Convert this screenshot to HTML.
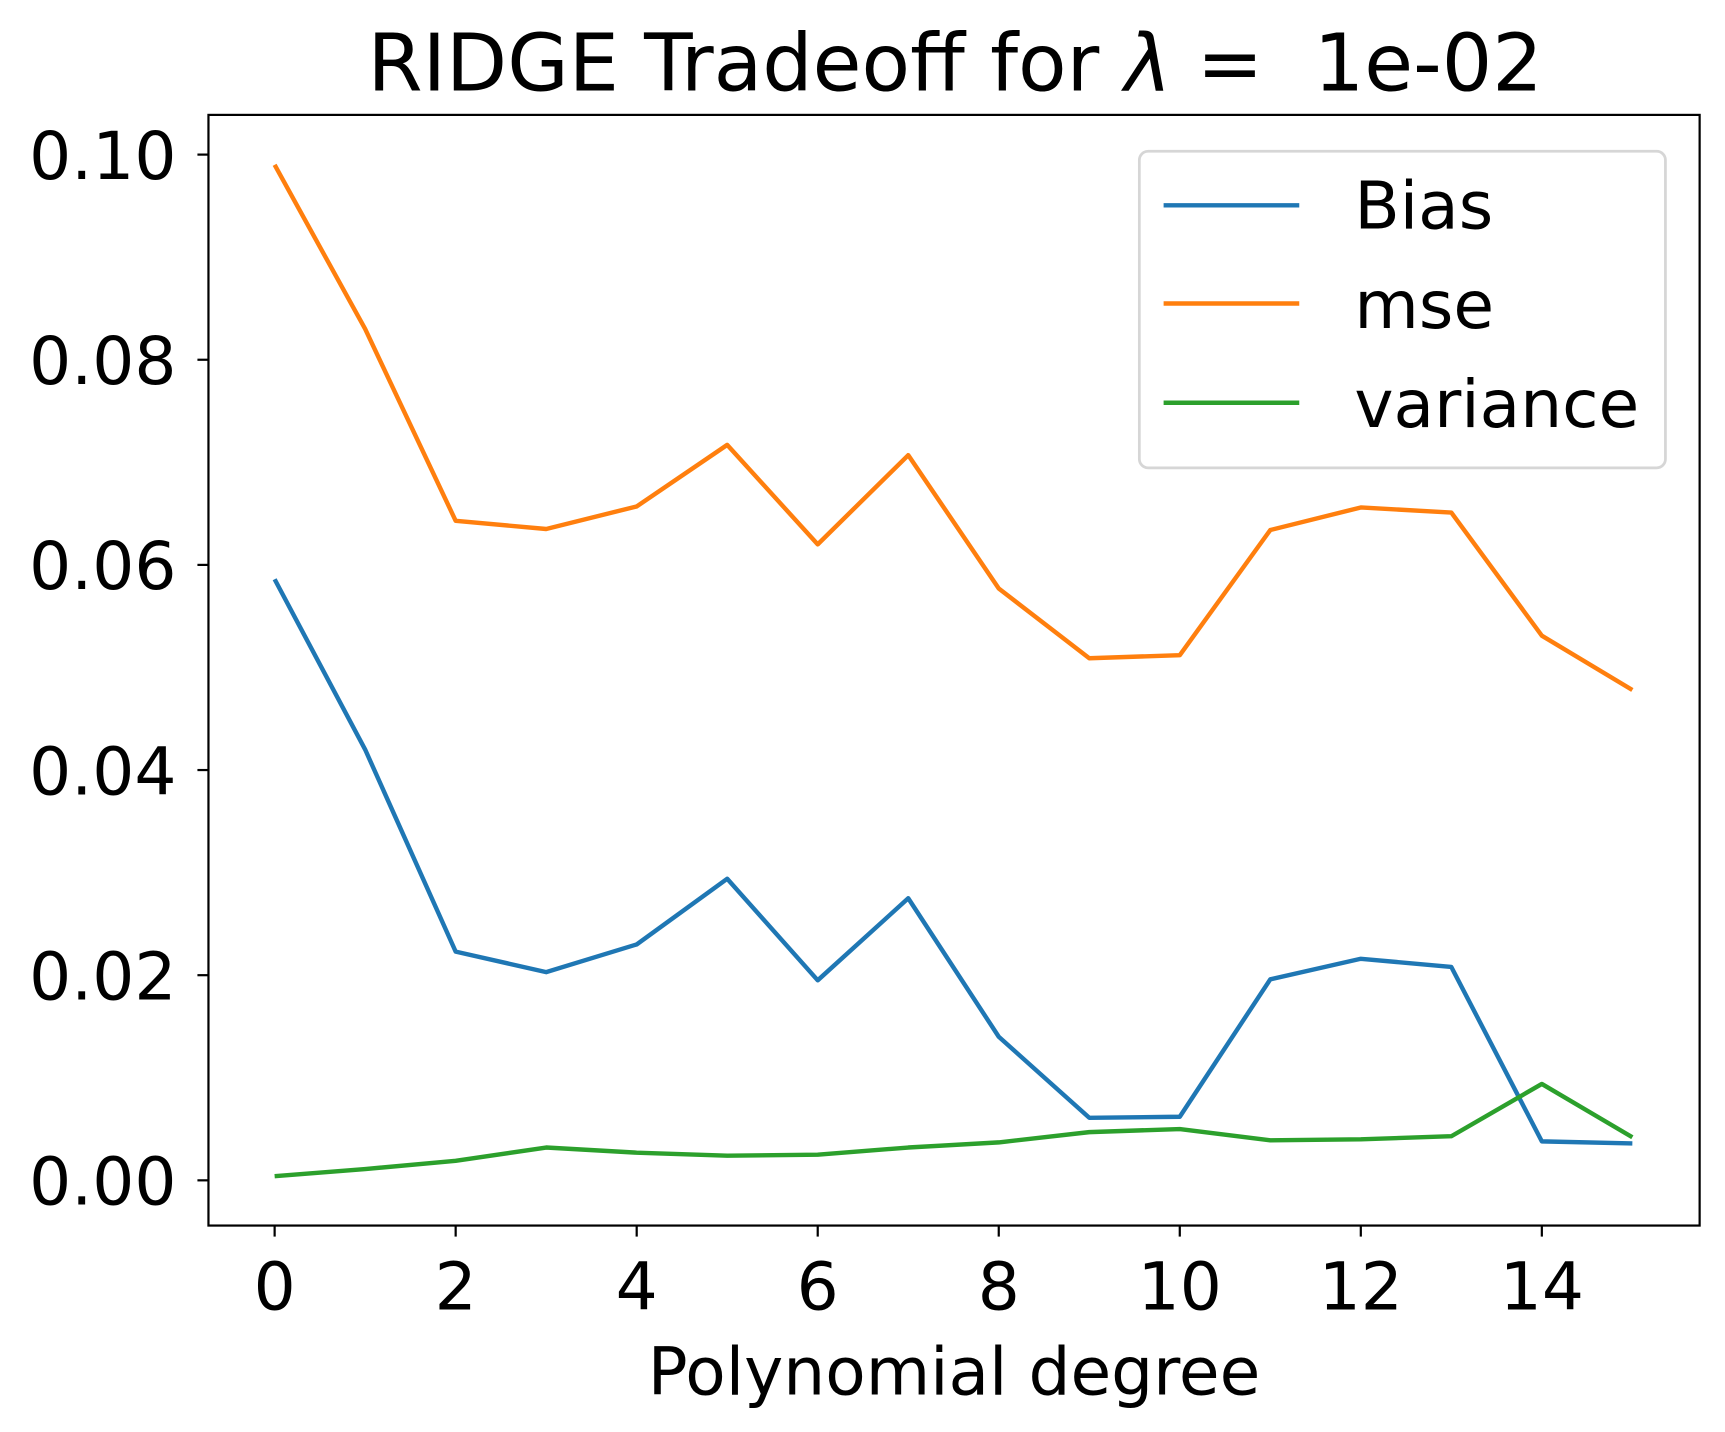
<!DOCTYPE html>
<html><head><meta charset="utf-8"><style>
html,body{margin:0;padding:0;background:#fff;}
svg{display:block;font-family:"DejaVu Sans","Liberation Sans",sans-serif;}
</style></head><body>
<svg id="chart" width="1725" height="1432" viewBox="0 0 1564 1298">
<rect x="0" y="0" width="1564" height="1298" fill="#fff"/>
<text x="866" y="82" font-size="72" text-anchor="middle" xml:space="preserve">RIDGE Tradeoff for <tspan font-style="italic">λ</tspan> =  1e-02</text>
<g id="grid"></g>
<g id="lines"></g>
<rect x="189" y="104" width="1352" height="1007" fill="none" stroke="#000" stroke-width="2"/>
<text x="865" y="1264" font-size="60" text-anchor="middle">Polynomial degree</text>
<g>
<rect x="1033" y="137" width="477" height="287" rx="8" fill="#fff" stroke="#d6d6d6" stroke-width="2.5"/>
<line x1="1055" y1="186" x2="1178" y2="186" stroke="#1f77b4" stroke-width="4"/>
<text x="1228" y="207" font-size="60">Bias</text>
<line x1="1055" y1="275" x2="1178" y2="275" stroke="#ff7f0e" stroke-width="4"/>
<text x="1228" y="297" font-size="60">mse</text>
<line x1="1055" y1="365" x2="1178" y2="365" stroke="#2ca02c" stroke-width="4"/>
<text x="1228" y="387" font-size="60">variance</text>
</g>
</svg>
<script>
const degrees = [0,1,2,3,4,5,6,7,8,9,10,11,12,13,14,15];
const biasValues = [0.0586,0.042,0.0223,0.0203,0.023,0.0294,0.0195,0.0275,0.014,0.0061,0.0062,0.0196,0.0216,0.0208,0.0038,0.0036];
const mseValues = [0.099,0.083,0.0643,0.0635,0.0657,0.0717,0.062,0.0707,0.0577,0.0509,0.0512,0.0634,0.0656,0.0651,0.0531,0.0478];
const varianceValues = [0.0004,0.0011,0.0019,0.0032,0.0027,0.0024,0.0025,0.0032,0.0037,0.0047,0.005,0.0039,0.004,0.0043,0.0094,0.0042];
const xTicks = [0,2,4,6,8,10,12,14];
const yTicks = [0,0.02,0.04,0.06,0.08,0.10];
const yTickLabels = ["0.00","0.02","0.04","0.06","0.08","0.10"];

const NS = "http://www.w3.org/2000/svg";
function xs(v){ return 249 + v * (1480 - 249) / 15; }
function ys(v){ return 1070 - v * (1070 - 140) / 0.1; }
const grid = document.getElementById('grid');
const lines = document.getElementById('lines');
function mk(tag, attrs, parent){
  const e = document.createElementNS(NS, tag);
  for (const k in attrs) e.setAttribute(k, attrs[k]);
  parent.appendChild(e); return e;
}
xTicks.forEach(t => {
  const l = mk('line', {x1: xs(t), x2: xs(t), y1: 1111, y2: 1121, stroke: '#000', 'stroke-width': 2}, grid);
  
  
  const tx = mk('text', {x: xs(t), y: 1187, 'font-size': 60, 'text-anchor': 'middle'}, grid);
  tx.textContent = String(t);
  
  
});
yTicks.forEach((t, i) => {
  const l = mk('line', {x1: 179, x2: 189, y1: ys(t), y2: ys(t), stroke: '#000', 'stroke-width': 2}, grid);
  
  
  const tx = mk('text', {x: 160, y: ys(t) + 22, 'font-size': 60, 'text-anchor': 'end'}, grid);
  tx.textContent = yTickLabels[i];
  
  
});
function series(vals, color, name){
  const pts = degrees.map((d, i) => xs(d) + ',' + ys(vals[i])).join(' ');
  const p = mk('polyline', {points: pts, fill: 'none', stroke: color, 'stroke-width': 4, 'stroke-linejoin': 'round'}, lines);
  
  
}
series(biasValues, '#1f77b4', 'bias-line');
series(mseValues, '#ff7f0e', 'mse-line');
series(varianceValues, '#2ca02c', 'variance-line');
</script>
</body></html>
